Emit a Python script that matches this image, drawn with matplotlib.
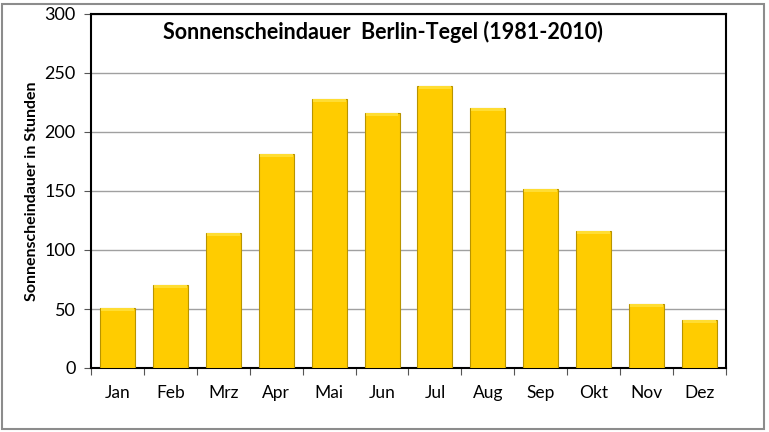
"""Sonnenscheindauer Berlin-Tegel (1981-2010) - monthly sunshine hours."""

import matplotlib

matplotlib.use("Agg")
import matplotlib.pyplot as plt
import numpy as np
from matplotlib.patches import Rectangle

plt.rcParams["font.family"] = ["Lato", "DejaVu Sans"]

# monthly sunshine hours
months = ["Jan", "Feb", "Mrz", "Apr", "Mai", "Jun",
          "Jul", "Aug", "Sep", "Okt", "Nov", "Dez"]
hours = [51, 70, 114, 181, 228, 216, 239, 220, 152, 116, 54, 41]
y_ticks = [0, 50, 100, 150, 200, 250, 300]

fig = plt.figure(figsize=(7.69, 4.32), dpi=100)
ax = fig.add_axes([91 / 769, 64 / 432, 635 / 769, 354 / 432])

x = np.arange(len(months))
ax.bar(x, hours, width=0.66, color="#FFCC00", edgecolor="#B89400",
       linewidth=0.8, zorder=3)
# light strip on top of each bar (bevel look)
ax.bar(x, [2.5] * len(hours), bottom=np.array(hours) - 2.5, width=0.62,
       color="#FFDD33", linewidth=0, zorder=4)

ax.set_xlim(-0.5, len(months) - 0.5)
ax.set_ylim(0, 300)
ax.set_yticks(y_ticks)
ax.set_xticks(x)
ax.set_xticklabels(months)
ax.set_xticks(np.arange(-0.5, len(months)), minor=True)
ax.tick_params(axis="x", which="major", length=0, pad=12, labelsize=12.5)
ax.tick_params(axis="x", which="minor", length=5, width=0.8, color="#555555")
ax.tick_params(axis="y", length=5, width=0.8, color="#555555", labelsize=13,
               pad=6)
ax.yaxis.grid(True, color="#A0A0A0", linewidth=1.0, zorder=0)

for side in ["left", "bottom", "right", "top"]:
    ax.spines[side].set_color("black")
    ax.spines[side].set_linewidth(1.5)

ax.text(0.46, 0.95, "Sonnenscheindauer  Berlin-Tegel (1981-2010)",
        transform=ax.transAxes, ha="center", va="center",
        fontsize=15.5, fontweight="bold")
ax.set_ylabel("Sonnenscheindauer in Stunden", fontsize=11.5,
              fontweight="bold", labelpad=4)

# outer grey frame around the whole chart
fig.patches.append(Rectangle((2 / 769, 3 / 432), 762 / 769, 425 / 432,
                             transform=fig.transFigure, fill=False,
                             edgecolor="#8C8C8C", linewidth=1.5))

fig.savefig("out.png", dpi=100)
